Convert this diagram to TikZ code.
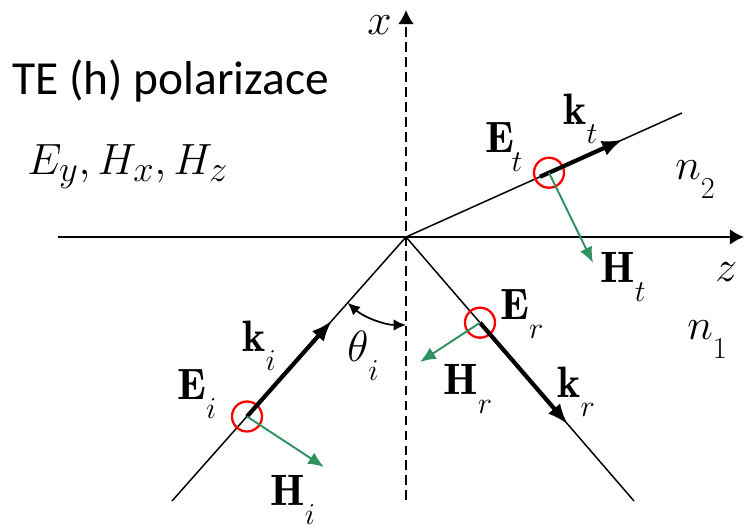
\documentclass[tikz,border=0pt]{standalone}
\usepackage{amsmath, amssymb}
\usepackage{fontspec}
\usepackage{tikz}
\usepackage{xcolor}
\usetikzlibrary{arrows.meta}

\newfontfamily\calibri{Carlito}
\definecolor{hgreen}{RGB}{47,145,95}
% subscript set low, as in the slide
\newcommand{\vsub}[2]{#1\raisebox{-0.43em}{$\scriptstyle #2$}}

\tikzset{
  lab/.style={inner sep=0pt, anchor=base west, font=\fontsize{25}{30}\selectfont},
  axis/.style={line width=1.4pt, -{Latex[length=8pt,width=9pt]}},
  ray/.style={line width=0.85pt},
  kvec/.style={line width=2.4pt, -{Latex[length=12pt,width=9pt]}},
  hvec/.style={hgreen, line width=1.1pt, -{Latex[length=9pt,width=7.5pt]}},
  ring/.style={circle, draw=red, line width=1.3pt, minimum size=0.6cm, inner sep=0pt}
}

\begin{document}
\begin{tikzpicture}
\useasboundingbox (-8.12,-5.78) rectangle (6.78,4.74);

% Axes
\coordinate (O) at (0,0);
\coordinate (zl) at (-6.96,0);
\coordinate (zr) at (6.76,0);
\coordinate (xb) at (0,-5.26);
\coordinate (xt) at (0,4.54);
\draw[axis] (zl) -- (zr);
\draw[axis, line width=1.2pt, dash pattern=on 5.5pt off 3pt] (xb) -- (xt);
\node[lab, font=\fontsize{23}{28}\selectfont] (xlab) at (-0.78,4.04) {$x$};
\node[lab, font=\fontsize{24}{28}\selectfont] (zlab) at (6.18,-0.90) {$z$};

% Rays
\coordinate (Ai) at (-4.68,-5.28);
\coordinate (Ar) at (4.56,-5.28);
\coordinate (At) at (5.52,2.48);
\draw[ray] (Ai) -- (O) -- (Ar);
\draw[ray] (O) -- (At);

% Incident wave
\coordinate (Ki) at (-1.48,-1.67);
\coordinate (Hi) at (-1.64,-4.60);
\node[ring] (ci) at (-3.18,-3.59) {};
\draw[kvec] (ci.center) -- (Ki);
\draw[hvec] (ci.center) -- (Hi);

% Reflected wave
\coordinate (Kr) at (3.24,-3.752);
\coordinate (Hr) at (0.28,-2.50);
\node[ring] (cr) at (1.48,-1.714) {};
\draw[kvec] (cr.center) -- (Kr);
\draw[hvec] (cr.center) -- (Hr);

% Transmitted wave
\coordinate (St) at (2.68,1.204);
\coordinate (Kt) at (4.34,1.95);
\coordinate (Ht) at (3.74,-0.52);
\node[ring] (ct) at (2.86,1.285) {};
\draw[kvec] (St) -- (Kt);
\draw[hvec] (ct.center) -- (Ht);

% Angle of incidence
\draw[line width=1pt, {Latex[length=7pt,width=6.5pt]}-{Latex[length=7pt,width=6.5pt]}]
  ([shift={(228.45:1.76)}]O) arc[start angle=228.45, end angle=270, radius=1.76];

% Labels
\node[lab, font=\fontsize{27}{32}\selectfont\calibri] (te) at (-7.88,2.84) {TE (h) polarizace};
\node[lab, font=\fontsize{28}{32}\selectfont] (comp) at (-7.58,1.24) {$E_y,H_x,H_z$};
\node[lab] (n2) at (5.38,1.14) {$\vsub{n}{2}$};
\node[lab] (n1) at (5.62,-2.06) {$\vsub{n}{1}$};
\node[lab] (Etl) at (1.58,1.68) {$\vsub{\mathbf{E}\mkern-1mu}{t}$};
\node[lab] (ktl) at (3.14,2.24) {$\vsub{\mathbf{k}}{t}$};
\node[lab] (Htl) at (3.88,-0.92) {$\vsub{\mathbf{H}}{t}$};
\node[lab] (Erl) at (1.88,-1.66) {$\vsub{\mathbf{E}}{r}$};
\node[lab] (Hrl) at (0.74,-3.16) {$\vsub{\mathbf{H}}{r}$};
\node[lab] (krl) at (3.02,-3.22) {$\vsub{\mathbf{k}}{r}$};
\node[lab] (kil) at (-3.28,-2.30) {$\vsub{\mathbf{k}}{i}$};
\node[lab] (Eil) at (-4.58,-3.26) {$\vsub{\mathbf{E}}{i}$};
\node[lab] (Hil) at (-2.72,-5.38) {$\vsub{\mathbf{H}}{i}$};
\node[lab] (thl) at (-1.18,-2.50) {$\vsub{\theta}{i}$};
\end{tikzpicture}
\end{document}
